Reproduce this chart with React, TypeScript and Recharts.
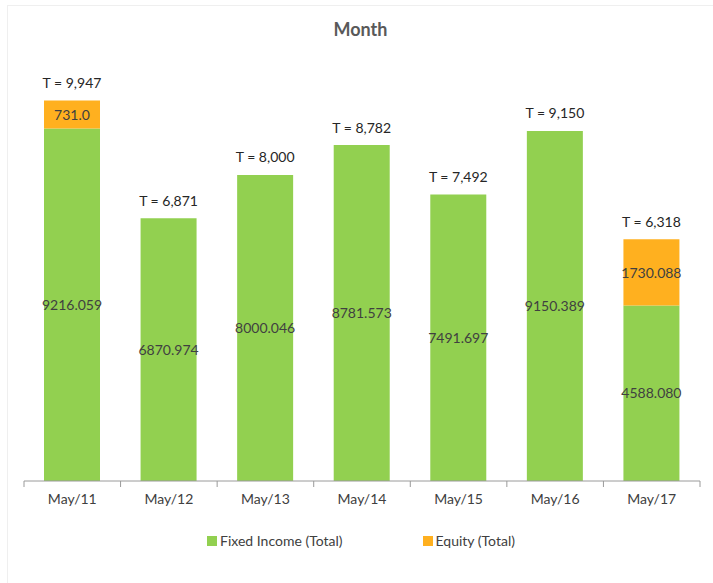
import { BarChart, Bar, XAxis, YAxis, LabelList, Legend } from "recharts";

// ─── Data ─────────────────────────────────────────────────
const months = ["May/11", "May/12", "May/13", "May/14", "May/15", "May/16", "May/17"];
const fixedIncome = [9216.059, 6870.974, 8000.046, 8781.573, 7491.697, 9150.389, 4588.08];
const equity = [731.0, 0, 0, 0, 0, 0, 1730.088];
const equityLabels = ["731.0", "", "", "", "", "", "1730.088"];

const seriesInfo = [
  { key: "fixed", name: "Fixed Income (Total)", color: "#92D050" },
  { key: "equity", name: "Equity (Total)", color: "#FFB01F" },
];

const data = months.map((m, i) => ({
  month: m,
  fixed: fixedIncome[i],
  equity: equity[i],
  total: fixedIncome[i] + equity[i],
}));

// ─── Layout ───────────────────────────────────────────────
const W = 713;
const H = 583;
const MARGIN = { top: 22, right: 13, left: 24, bottom: 27 };
const BAND = (W - MARGIN.left - MARGIN.right) / months.length;
const FONT = "Lato, 'Open Sans', sans-serif";
const TEXT = "#404040";

// Excel-style ticks: marks sit between categories, label centred
const MonthTick = (props: any) => {
  const { x, y, payload, index } = props;
  const last = index === months.length - 1;
  return (
    <g>
      <line x1={x - BAND / 2} x2={x - BAND / 2} y1={y} y2={y + 6} stroke="#9a9a9a" />
      {last && <line x1={x + BAND / 2} x2={x + BAND / 2} y1={y} y2={y + 6} stroke="#9a9a9a" />}
      <text x={x} y={y + 17} textAnchor="middle" dominantBaseline="central" fill={TEXT} fontSize={14} fontFamily={FONT}>
        {payload.value}
      </text>
    </g>
  );
};

// hung on the fixed-income bar (always drawn); the stack top is found by
// scaling the bar's own pixel height by total / fixed
const TotalLabel = (props: any) => {
  const { x, y, width, height, value } = props;
  const row = data.find((d) => Math.abs(d.total - value) < 1e-6);
  const f = row ? row.fixed : value;
  const top = y + height - (height * value) / f;
  const t = Math.round(value).toLocaleString("en-US");
  return (
    <text x={x + width / 2} y={top - 18} textAnchor="middle" dominantBaseline="central" fill="#262626" fontSize={14} fontFamily={FONT}>
      {"T = " + t}
    </text>
  );
};

const EquityLabel = (props: any) => {
  const { x, y, width, height, value } = props;
  const i = equity.indexOf(Number(value));
  const txt = i >= 0 ? equityLabels[i] : "";
  if (!txt) return null;
  return (
    <text x={x + width / 2} y={y + height / 2} textAnchor="middle" dominantBaseline="central" fill={TEXT} fontSize={14} fontFamily={FONT}>
      {txt}
    </text>
  );
};

const LegendContent = () => (
  <div style={{ display: "flex", justifyContent: "center", fontFamily: FONT, fontSize: 14, color: TEXT, paddingRight: 2 }}>
    {seriesInfo.map((s, i) => (
      <div key={s.key} style={{ display: "flex", alignItems: "center", marginRight: i === 0 ? 80 : 0 }}>
        <span style={{ width: 10, height: 10, background: s.color, marginRight: 3, display: "inline-block" }} />
        <span>{s.name}</span>
      </div>
    ))}
  </div>
);

export default function App() {
  return (
    <div style={{ position: "fixed", left: 0, top: 0, width: W, height: H, background: "#fff" }}>
      <div
        style={{
          position: "absolute", left: 7, top: 5, right: 0, bottom: 0,
          borderTop: "1px solid #efefef", borderLeft: "1px solid #efefef",
        }}
      />
      <div
        style={{
          position: "absolute", left: 0, width: W + 8, top: 18, textAlign: "center",
          fontFamily: FONT, fontWeight: 700, fontSize: 18, color: "#595959",
        }}
      >
        Month
      </div>
      <div style={{ position: "absolute", left: 0, top: 0 }}>
        <BarChart width={W} height={H} data={data} margin={MARGIN} barSize={56}>
          <XAxis
            dataKey="month"
            tick={<MonthTick />}
            tickLine={false}
            tickSize={0}
            tickMargin={0}
            axisLine={{ stroke: "#9a9a9a" }}
            height={51}
            interval={0}
          />
          <YAxis hide domain={[0, 12000]} />
          <Legend verticalAlign="bottom" height={24} content={<LegendContent />} />
          <Bar dataKey="fixed" name={seriesInfo[0].name} stackId="a" fill={seriesInfo[0].color} isAnimationActive={false}>
            <LabelList
              dataKey="fixed"
              position="center"
              formatter={(v: any) => Number(v).toFixed(3)}
              fill={TEXT}
              fontSize={14}
              fontFamily={FONT}
            />
            <LabelList dataKey="total" content={<TotalLabel />} />
          </Bar>
          <Bar dataKey="equity" name={seriesInfo[1].name} stackId="a" fill={seriesInfo[1].color} isAnimationActive={false}>
            <LabelList dataKey="equity" content={<EquityLabel />} />
          </Bar>
        </BarChart>
      </div>
    </div>
  );
}
